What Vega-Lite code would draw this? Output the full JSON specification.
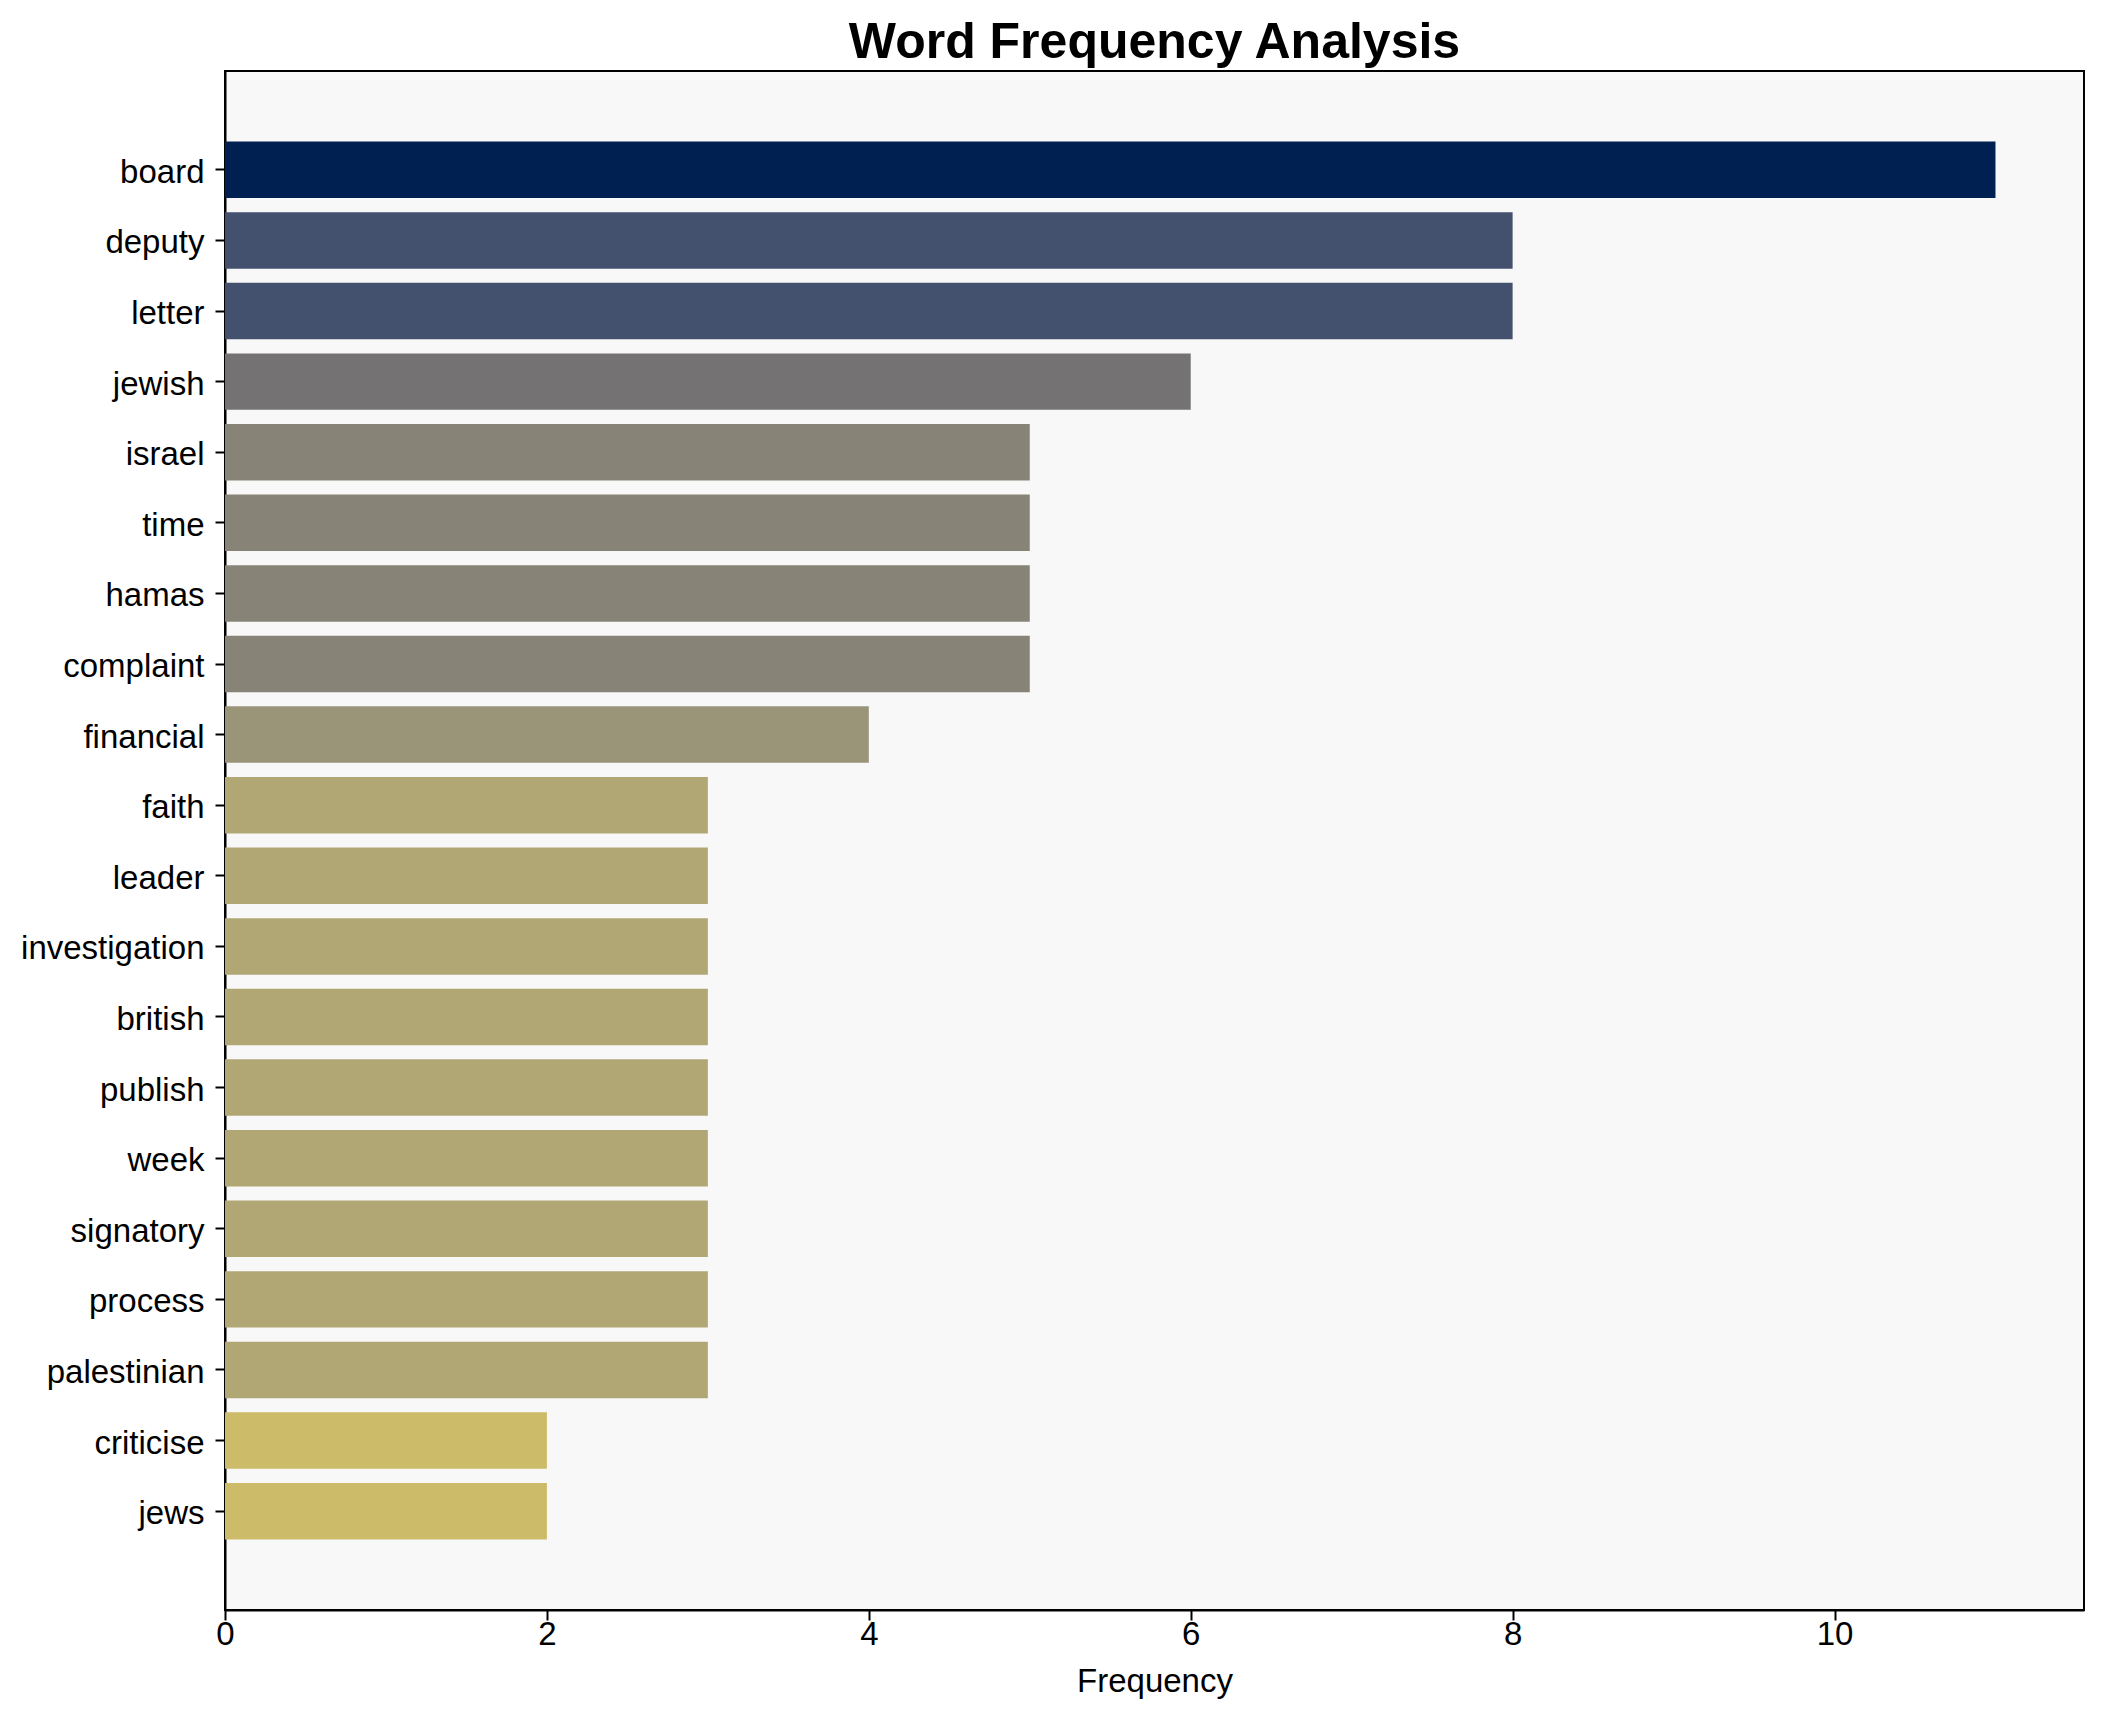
{
  "$schema": "https://vega.github.io/schema/vega-lite/v6.json",
  "width": 1859,
  "height": 1539,
  "autosize": {"type": "none"},
  "padding": {"left": 225, "top": 71, "right": 20, "bottom": 112},
  "background": "white",
  "title": {"text": "Word Frequency Analysis", "fontSize": 50, "fontWeight": "bold", "font": "Liberation Sans", "color": "black", "offset": 3, "anchor": "middle"},
  "config": {
    "view": {"fill": "#f8f8f8", "stroke": "black", "strokeWidth": 2},
    "axis": {"labelFont": "Liberation Sans", "titleFont": "Liberation Sans", "labelFontSize": 33, "titleFontSize": 33, "titleFontWeight": "normal", "labelColor": "black", "titleColor": "black", "tickColor": "black", "domainColor": "black", "tickSize": 10, "tickWidth": 2, "domainWidth": 2, "grid": false, "labelLimit": 0}
  },
  "data": {"values": [
    {"word": "board", "count": 11},
    {"word": "deputy", "count": 8},
    {"word": "letter", "count": 8},
    {"word": "jewish", "count": 6},
    {"word": "israel", "count": 5},
    {"word": "time", "count": 5},
    {"word": "hamas", "count": 5},
    {"word": "complaint", "count": 5},
    {"word": "financial", "count": 4},
    {"word": "faith", "count": 3},
    {"word": "leader", "count": 3},
    {"word": "investigation", "count": 3},
    {"word": "british", "count": 3},
    {"word": "publish", "count": 3},
    {"word": "week", "count": 3},
    {"word": "signatory", "count": 3},
    {"word": "process", "count": 3},
    {"word": "palestinian", "count": 3},
    {"word": "criticise", "count": 2},
    {"word": "jews", "count": 2}
  ]},
  "mark": {"type": "bar"},
  "encoding": {
    "y": {"field": "word", "type": "nominal", "sort": null, "scale": {"paddingInner": 0.2, "paddingOuter": 1.0}, "axis": {"title": null, "labelPadding": 11, "labelOffset": 3}},
    "x": {"field": "count", "type": "quantitative", "scale": {"domain": [0, 11.55], "nice": false, "zero": true}, "axis": {"title": "Frequency", "values": [0, 2, 4, 6, 8, 10], "labelFlush": false, "labelPadding": -2, "titlePadding": 14}},
    "color": {"field": "count", "type": "quantitative", "scale": {"scheme": "cividis", "domain": [0, 11], "reverse": true}, "legend": null}
  }
}
